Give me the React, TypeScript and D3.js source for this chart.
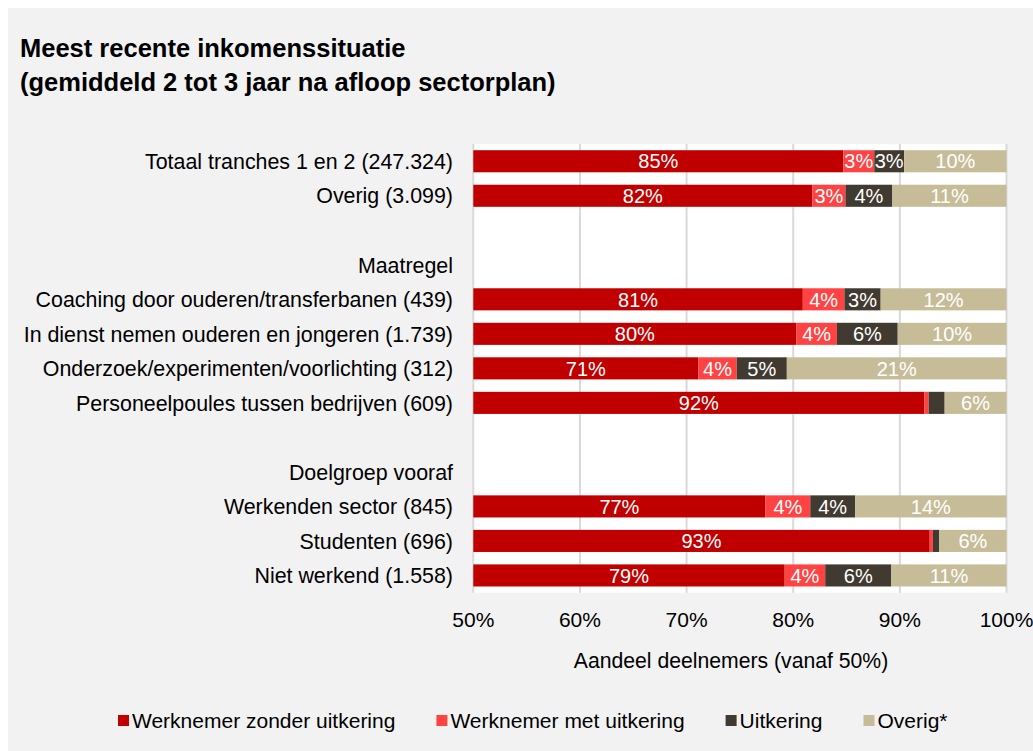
import { useEffect, useRef } from 'react';
import * as d3 from 'd3';

const categories = [
  'Totaal tranches 1 en 2 (247.324)',
  'Overig (3.099)',
  '',
  'Maatregel',
  'Coaching door ouderen/transferbanen (439)',
  'In dienst nemen ouderen en jongeren (1.739)',
  'Onderzoek/experimenten/voorlichting (312)',
  'Personeelpoules tussen bedrijven (609)',
  '',
  'Doelgroep vooraf',
  'Werkenden sector (845)',
  'Studenten (696)',
  'Niet werkend (1.558)',
];

// null = header / empty row
const werknemerZonder = [84.7, 81.8, null, null, 80.9, 80.3, 71.1, 92.3, null, null, 77.4, 92.8, 79.2];
const werknemerMet = [2.9, 3.1, null, null, 3.9, 3.8, 3.6, 0.4, null, null, 4.2, 0.3, 3.8];
const uitkering = [2.8, 4.4, null, null, 3.4, 5.7, 4.7, 1.5, null, null, 4.2, 0.6, 6.2];
const overig = [9.6, 10.7, null, null, 11.8, 10.2, 20.6, 5.8, null, null, 14.2, 6.3, 10.8];

const seriesNames = ['Werknemer zonder uitkering', 'Werknemer met uitkering', 'Uitkering', 'Overig*'];
const seriesColors = ['#c00000', '#ff4343', '#403a30', '#c6bd98'];
const xTicks = [50, 60, 70, 80, 90, 100];

const FONT = '"Liberation Sans", Arial, sans-serif';

const App = () => {
  const svgRef = useRef<SVGSVGElement | null>(null);

  useEffect(() => {
    if (!svgRef.current) return;
    const svg = d3.select(svgRef.current);
    svg.selectAll('*').remove();

    const width = 1033;
    const height = 751;

    svg.attr('width', width).attr('height', height).style('font-family', FONT);

    svg.append('rect').attr('width', width).attr('height', height).attr('fill', '#ffffff');
    svg.append('rect').attr('x', 8).attr('y', 8).attr('width', width - 8).attr('height', height - 8).attr('fill', '#f2f2f2');

    // Title
    const title = svg.append('text').attr('x', 20).attr('font-size', '25.5px').attr('font-weight', 'bold').attr('fill', '#000');
    title.append('tspan').attr('x', 20).attr('y', 57).text('Meest recente inkomenssituatie');
    title.append('tspan').attr('x', 20).attr('y', 91).text('(gemiddeld 2 tot 3 jaar na afloop sectorplan)');

    // Scales
    const x = d3.scaleLinear().domain([50, 100]).range([473.3, 1006.5]);
    const y = d3.scaleBand<number>()
      .domain(d3.range(categories.length))
      .range([144, 592.7])
      .paddingInner(0.36)
      .paddingOuter(0.18);

    // Plot area
    svg.append('rect')
      .attr('x', x(50))
      .attr('y', 144)
      .attr('width', x(100) - x(50))
      .attr('height', 592.7 - 144)
      .attr('fill', '#ffffff');

    svg.append('g')
      .selectAll('line')
      .data(xTicks)
      .join('line')
      .attr('x1', (d) => x(d))
      .attr('x2', (d) => x(d))
      .attr('y1', 144)
      .attr('y2', 592.7)
      .attr('stroke', '#d9d9d9')
      .attr('stroke-width', 2);

    // Stack
    const series = [werknemerZonder, werknemerMet, uitkering, overig];
    const rows = categories
      .map((c, i) => ({ i, values: series.map((s) => s[i]) }))
      .filter((r) => r.values[0] !== null);

    const stackData = rows.map((r) => {
      const o: Record<string, number> = { i: r.i };
      seriesNames.forEach((k, j) => (o[k] = r.values[j] as number));
      return o;
    });
    const stacked = d3.stack<Record<string, number>>().keys(seriesNames)(stackData);

    stacked.forEach((layer, j) => {
      const g = svg.append('g');
      layer.forEach((d) => {
        const x0 = x(Math.max(50, d[0]));
        const x1 = x(Math.max(50, d[1]));
        const yy = y(d.data.i) as number;
        g.append('rect')
          .attr('x', x0)
          .attr('y', yy)
          .attr('width', Math.max(0, x1 - x0))
          .attr('height', y.bandwidth())
          .attr('fill', seriesColors[j]);
        const v = d[1] - d[0];
        if (v >= 2) {
          g.append('text')
            .attr('x', (x0 + x1) / 2)
            .attr('y', yy + y.bandwidth() / 2)
            .attr('dy', '0.36em')
            .attr('text-anchor', 'middle')
            .attr('font-size', '20px')
            .attr('fill', '#ffffff')
            .text(`${Math.round(v)}%`);
        }
      });
    });

    // Category labels
    svg.append('g')
      .selectAll('text')
      .data(categories)
      .join('text')
      .attr('x', 453)
      .attr('y', (_, i) => (y(i) as number) + y.bandwidth() / 2)
      .attr('dy', '0.36em')
      .attr('text-anchor', 'end')
      .attr('font-size', '21.4px')
      .attr('fill', '#000')
      .text((d) => d);

    // X tick labels
    svg.append('g')
      .selectAll('text')
      .data(xTicks)
      .join('text')
      .attr('x', (d) => x(d))
      .attr('y', 627)
      .attr('text-anchor', 'middle')
      .attr('font-size', '21px')
      .attr('fill', '#000')
      .text((d) => `${d}%`);

    svg.append('text')
      .attr('x', 731)
      .attr('y', 668)
      .attr('text-anchor', 'middle')
      .attr('font-size', '21.2px')
      .attr('fill', '#000')
      .text('Aandeel deelnemers (vanaf 50%)');

    // Legend
    let lx = 118;
    seriesNames.forEach((name, j) => {
      svg.append('rect')
        .attr('x', lx)
        .attr('y', 715)
        .attr('width', 11)
        .attr('height', 11)
        .attr('fill', seriesColors[j]);
      const t = svg.append('text')
        .attr('x', lx + 14)
        .attr('y', 728)
        .attr('font-size', '21px')
        .attr('fill', '#000')
        .text(name);
      const w = (t.node() as SVGTextElement).getComputedTextLength();
      lx += 14 + w + 41;
    });
  }, []);

  return (
    <svg ref={svgRef} style={{ position: 'absolute', left: 0, top: 0, display: 'block' }}></svg>
  );
};

export default App;
